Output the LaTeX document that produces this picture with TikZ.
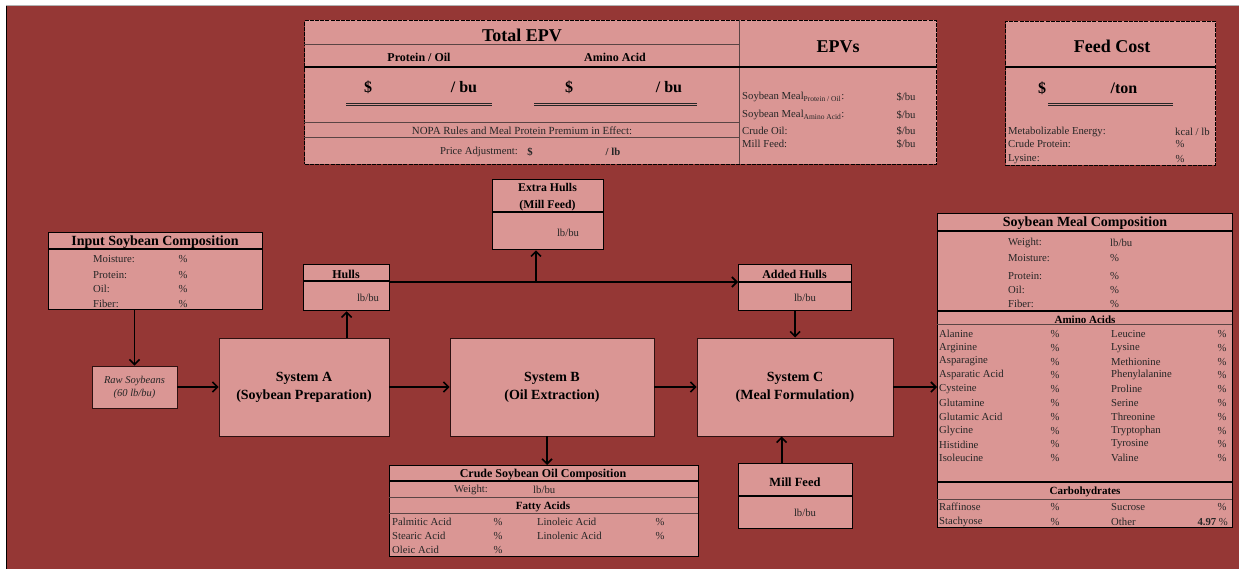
\documentclass[tikz,border=0pt]{standalone}
\usepackage{fontspec}
\setmainfont{Liberation Serif}
\usetikzlibrary{arrows.meta}
\definecolor{bgred}{HTML}{953735}
\definecolor{boxpink}{HTML}{DA9694}
\definecolor{rulegray}{HTML}{5A4444}
\definecolor{inkgray}{HTML}{262626}
\newcommand{\fsz}[2]{\fontsize{#1}{#2}\selectfont}
\tikzset{
  panel/.style={draw=black, line width=1.3pt, fill=boxpink, inner sep=0pt, anchor=north west},
  dashpanel/.style={draw=black, line width=1pt, dash pattern=on 4pt off 1.2pt, fill=boxpink, inner sep=0pt, anchor=north west},
  sysbox/.style={draw=black!70!bgred, line width=0.9pt, fill=boxpink, align=center, inner sep=0pt, font=\bfseries\fsz{14}{18}},
  flow/.style={-{Straight Barb[length=5pt,width=10pt,line width=1.6pt]}, line width=1.8pt},
  rowtxt/.style={font=\fsz{10.7}{12}, text=inkgray, inner sep=0pt, anchor=west, yshift=-1pt},
  valtxt/.style={font=\fsz{10.7}{12}, text=inkgray, inner sep=0pt, yshift=-1pt},
  headtxt/.style={font=\bfseries\fsz{12}{14}, inner sep=0pt, yshift=-1.5pt},
  titletxt/.style={font=\bfseries\fsz{14}{16}, inner sep=0pt, yshift=-1.5pt},
  bigtxt/.style={font=\bfseries\fsz{18}{20}, inner sep=0pt, yshift=-1.5pt},
  moneytxt/.style={font=\bfseries\fsz{16}{19}, inner sep=0pt, yshift=-1.5pt},
  thinrule/.style={draw=rulegray, line width=0.8pt},
  blackrule/.style={draw=black, line width=1.2pt}
}
\begin{document}
\begin{tikzpicture}[x=1pt,y=-1pt]
\useasboundingbox (0,0) rectangle (1239,569);
\fill[white] (0,0) rectangle (1239,569);
\fill[bgred] (6,5) rectangle (1239,569);
\draw[black, line width=1.2pt] (6.5,5) -- (6.5,569);
\draw[gray!60, line width=0.8pt] (6,5) -- (1239,5);

% Total EPV and EPVs
\node[dashpanel, minimum width=632pt, minimum height=144pt] (epvpanel) at (304,20) {};
\draw[thinrule] (739,20) -- (739,164);
\draw[thinrule] (304,44) -- (739,44);
\draw[blackrule] (304,67) -- (936,67);
\draw[thinrule] (304,122) -- (739,122);
\draw[thinrule] (304,137) -- (739,137);
\node[bigtxt] (tepv) at (522,34) {Total EPV};
\node[headtxt] (protoil) at (419,56) {Protein / Oil};
\node[headtxt] (amino) at (615,56) {Amino Acid};
\node[moneytxt] (dol1) at (368,86) {\$};
\node[moneytxt] (bu1) at (464,86) {/ bu};
\node[moneytxt] (dol2) at (569,86) {\$};
\node[moneytxt] (bu2) at (669,86) {/ bu};
\foreach \a/\b in {346/492, 534/697} {
  \draw[inkgray, line width=0.9pt] (\a,103) -- (\b,103);
  \draw[inkgray, line width=0.9pt] (\a,105.5) -- (\b,105.5);
}
\node[valtxt, font=\fsz{10.9}{12}] (nopa) at (522,130) {NOPA Rules and Meal Protein Premium in Effect:};
\node[valtxt, anchor=east] (padj) at (518,151) {Price Adjustment:};
\node[valtxt, font=\bfseries\fsz{10.7}{12}] (pdol) at (530,151) {\$};
\node[valtxt, font=\bfseries\fsz{10.7}{12}] (plb) at (613,151) {/ lb};

\node[bigtxt] (epvs) at (838,45) {EPVs};
\node[rowtxt] (epv1) at (742,96) {Soybean Meal\textsubscript{Protein \slash{} Oil}:};
\node[rowtxt] (epv2) at (742,114) {Soybean Meal\textsubscript{Amino Acid}:};
\node[rowtxt] (epv3) at (742,130) {Crude Oil:};
\node[rowtxt] (epv4) at (742,143) {Mill Feed:};
\foreach \y [count=\i] in {96,114,130,143}
  \node[valtxt] (epvu\i) at (906,\y) {\$/bu};

% Feed Cost
\node[dashpanel, minimum width=210pt, minimum height=144pt] (feedpanel) at (1005,21) {};
\draw[blackrule] (1005,67) -- (1215,67);
\node[bigtxt] (feed) at (1112,45) {Feed Cost};
\node[moneytxt] (fdol) at (1042,87) {\$};
\node[moneytxt] (fton) at (1124,87) {/ton};
\draw[inkgray, line width=0.9pt] (1048,103) -- (1173,103);
\draw[inkgray, line width=0.9pt] (1048,105.5) -- (1173,105.5);
\node[rowtxt] (me) at (1008,131) {Metabolizable Energy:};
\node[rowtxt] (cp) at (1008,143) {Crude Protein:};
\node[rowtxt] (lys) at (1008,158) {Lysine:};
\node[rowtxt] (meu) at (1175,131) {kcal / lb};
\node[valtxt] (cpu) at (1180,143) {\%};
\node[valtxt] (lysu) at (1180,158) {\%};

% Input soybeans
\node[panel, minimum width=214pt, minimum height=77pt] (insoy) at (48,232) {};
\draw[blackrule] (48,249) -- (262,249);
\node[titletxt] (insoyt) at (155,241) {Input Soybean Composition};
\foreach \t/\y [count=\i] in {Moisture:/258, Protein:/274, Oil:/288, Fiber:/303} {
  \node[rowtxt] (in\i) at (93,\y) {\t};
  \node[valtxt] (inp\i) at (183,\y) {\%};
}
\node[sysbox, font=\itshape\fsz{10.5}{13}, text=inkgray, minimum width=85pt, minimum height=42pt] (raw) at (134.5,387) {Raw Soybeans\\(60 lb/bu)};

% systems
\node[sysbox, minimum width=170pt, minimum height=98pt] (sysA) at (304,387) {System A\\(Soybean Preparation)};
\node[sysbox, minimum width=204pt, minimum height=98pt] (sysB) at (552,387) {System B\\(Oil Extraction)};
\node[sysbox, minimum width=196pt, minimum height=98pt] (sysC) at (795,387) {System C\\(Meal Formulation)};

% hulls
\node[panel, minimum width=86pt, minimum height=46pt] (hulls) at (303,264) {};
\draw[blackrule] (303,281) -- (389,281);
\node[headtxt] (hullst) at (346,273) {Hulls};
\node[valtxt] (hullsv) at (368,297) {lb/bu};

\node[panel, minimum width=111pt, minimum height=70pt] (xhulls) at (492,179) {};
\draw[blackrule] (492,212) -- (603,212);
\node[headtxt, align=center, font=\bfseries\fsz{11.8}{17}] (xhullst) at (547.5,196) {Extra Hulls\\(Mill Feed)};
\node[valtxt] (xhullsv) at (568,232) {lb/bu};

\node[panel, minimum width=113pt, minimum height=46pt] (added) at (738,264) {};
\draw[blackrule] (738,282) -- (851,282);
\node[headtxt] (addedt) at (794.5,273) {Added Hulls};
\node[valtxt] (addedv) at (805,297) {lb/bu};

\node[panel, minimum width=114pt, minimum height=65pt] (mill) at (738,463) {};
\draw[blackrule] (738,496) -- (852,496);
\node[headtxt, font=\bfseries\fsz{12.5}{14}] (millt) at (795,481) {Mill Feed};
\node[valtxt] (millv) at (805,512) {lb/bu};

% crude oil
\node[panel, minimum width=309pt, minimum height=91pt] (crude) at (389,465) {};
\draw[blackrule] (389,481) -- (698,481);
\draw[thinrule] (389,497) -- (698,497);
\draw[thinrule] (389,513) -- (698,513);
\node[headtxt] (crudet) at (543,473.5) {Crude Soybean Oil Composition};
\node[valtxt, anchor=east] (cwt) at (488,489) {Weight:};
\node[valtxt, anchor=west] (cwtu) at (533,489) {lb/bu};
\node[headtxt, font=\bfseries\fsz{11}{13}] (fatty) at (543,505) {Fatty Acids};
\foreach \t/\y [count=\i] in {Palmitic Acid/521, Stearic Acid/535, Oleic Acid/549} {
  \node[rowtxt] (fa\i) at (392,\y) {\t};
  \node[valtxt] (fap\i) at (498,\y) {\%};
}
\foreach \t/\y [count=\i] in {Linoleic Acid/521, Linolenic Acid/535} {
  \node[rowtxt] (fb\i) at (537,\y) {\t};
  \node[valtxt] (fbp\i) at (660,\y) {\%};
}

% soybean meal
\node[panel, minimum width=295pt, minimum height=314pt] (meal) at (937,213) {};
\draw[blackrule] (937,231) -- (1232,231);
\draw[blackrule] (937,311) -- (1232,311);
\draw[thinrule] (937,324) -- (1232,324);
\draw[blackrule] (937,482) -- (1232,482);
\draw[thinrule] (937,499) -- (1232,499);
\node[titletxt] (mealt) at (1085,222) {Soybean Meal Composition};
\foreach \t/\u/\y [count=\i] in {Weight:/lb\slash bu/242, Moisture:/\%/257, Protein:/\%/275, Oil:/\%/289, Fiber:/\%/303} {
  \node[rowtxt] (sm\i) at (1008,\y) {\t};
  \node[rowtxt] (smu\i) at (1110,\y) {\u};
}
\node[headtxt, font=\bfseries\fsz{11}{13}] (aminot) at (1085,318) {Amino Acids};
\foreach \t [count=\i] in {Alanine, Arginine, Asparagine, Asparatic Acid, Cysteine, Glutamine, Glutamic Acid, Glycine, Histidine, Isoleucine} {
  \node[rowtxt] (aa\i) at (939,{333+13.8*(\i-1)}) {\t};
  \node[valtxt] (aap\i) at (1055,{333+13.8*(\i-1)}) {\%};
}
\foreach \t [count=\i] in {Leucine, Lysine, Methionine, Phenylalanine, Proline, Serine, Threonine, Tryptophan, Tyrosine, Valine} {
  \node[rowtxt] (ab\i) at (1111,{333+13.8*(\i-1)}) {\t};
  \node[valtxt] (abp\i) at (1222,{333+13.8*(\i-1)}) {\%};
}
\node[headtxt, font=\bfseries\fsz{11}{13}] (carbt) at (1085,490) {Carbohydrates};
\node[rowtxt] (raf) at (939,506) {Raffinose};
\node[valtxt] (rafp) at (1055,506) {\%};
\node[rowtxt] (sta) at (939,521) {Stachyose};
\node[valtxt] (stap) at (1055,521) {\%};
\node[rowtxt] (suc) at (1111,506) {Sucrose};
\node[valtxt] (sucp) at (1222,506) {\%};
\node[rowtxt] (oth) at (1111,521) {Other};
\node[valtxt, anchor=east] (othp) at (1228,521) {\textbf{4.97} \%};

% flows
\coordinate (hullsplit) at (536,282);
\coordinate (oilout) at ([xshift=-5pt]sysB.south);
\coordinate (millout) at ([xshift=-14pt]mill.north);
\draw[flow] (raw.north |- insoy.south) -- (raw.north);
\draw[flow] (raw.east) -- (sysA.west);
\draw[flow] (sysA.east) -- (sysB.west);
\draw[flow] (sysB.east) -- (sysC.west);
\draw[flow] (sysC.east) -- (meal.west |- sysC.east);
\draw[flow] (hulls.south |- sysA.north) -- (hulls.south);
\draw[flow] ([yshift=-18pt]hulls.north east) -- ([yshift=-18pt]added.north west);
\draw[flow] (hullsplit) -- (hullsplit |- xhulls.south);
\draw[flow] (added.south) -- (added.south |- sysC.north);
\draw[flow] (oilout) -- (oilout |- crude.north);
\draw[flow] (millout) -- (millout |- sysC.south);
\end{tikzpicture}
\end{document}
